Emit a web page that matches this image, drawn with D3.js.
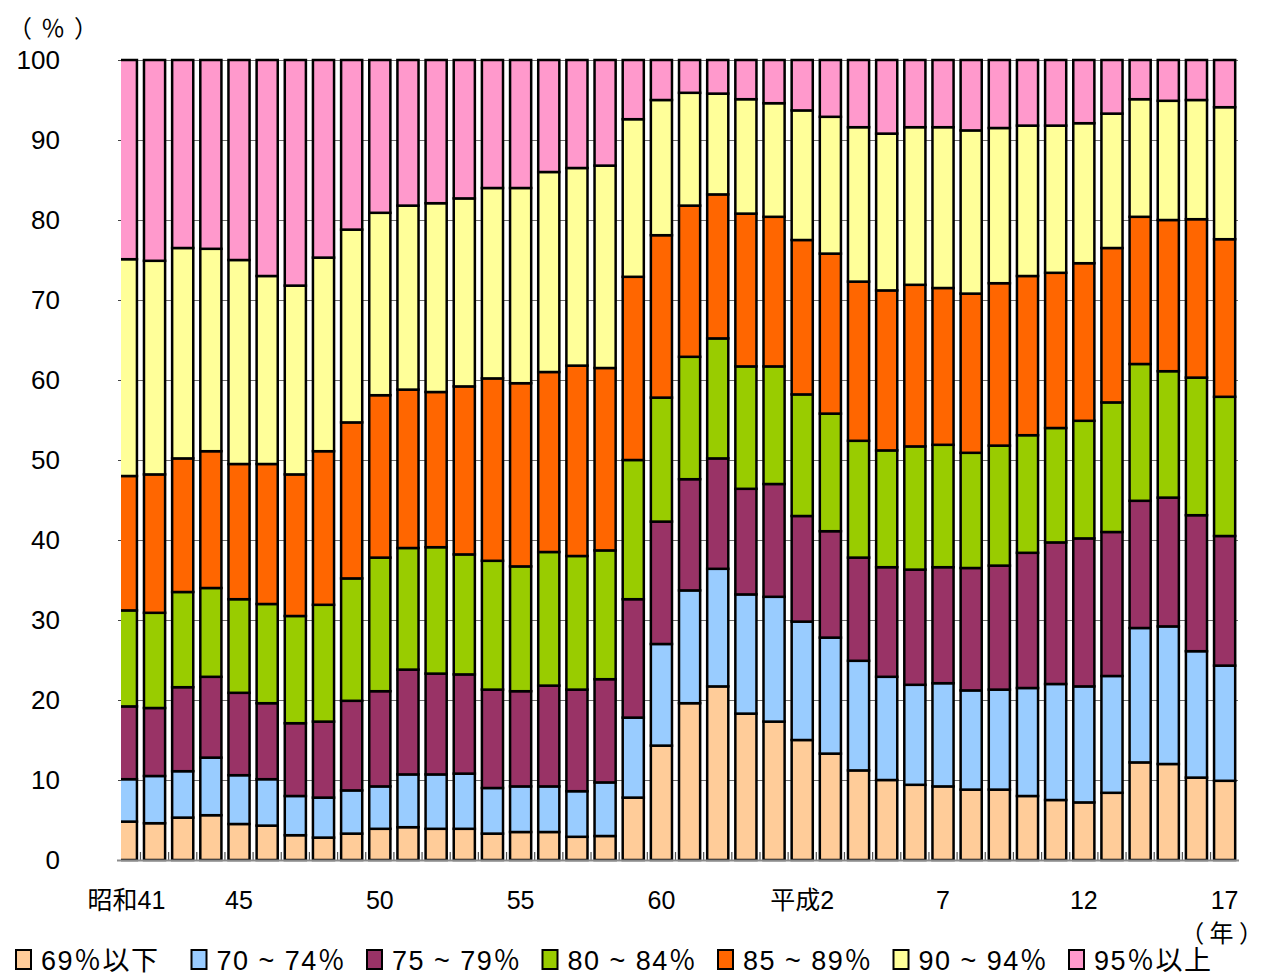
<!DOCTYPE html>
<html>
<head>
<meta charset="utf-8">
<title>Stacked bars</title>
<script src="https://cdnjs.cloudflare.com/ajax/libs/d3/7.8.5/d3.min.js"></script>
<style>
  body { margin: 0; background: #fff; }
  text { font-family: "Liberation Sans", Arial, "Noto Sans CJK JP", sans-serif; fill: #000; }
  .cjk { font-family: "Noto Sans CJK JP", sans-serif; }
</style>
</head>
<body>
<script>
// years, 昭和41 (1966) .. 平成17 (2005)
var years = ["昭和41","昭和42","昭和43","昭和44","昭和45","昭和46","昭和47","昭和48","昭和49","昭和50",
  "昭和51","昭和52","昭和53","昭和54","昭和55","昭和56","昭和57","昭和58","昭和59","昭和60",
  "昭和61","昭和62","昭和63","平成元","平成2","平成3","平成4","平成5","平成6","平成7",
  "平成8","平成9","平成10","平成11","平成12","平成13","平成14","平成15","平成16","平成17"];

// which years get a label, and what it says
var tickLabels = {"昭和41":"昭和41","昭和45":"45","昭和50":"50","昭和55":"55","昭和60":"60",
  "平成2":"平成2","平成7":"7","平成12":"12","平成17":"17"};

var seriesNames = ["69％以下","70 ~ 74％","75 ~ 79％","80 ~ 84％","85 ~ 89％","90 ~ 94％","95％以上"];
var colors = ["#FFCC99","#99CCFF","#993366","#99CC00","#FF6600","#FFFF99","#FF99CC"];
var yTicks = [0,10,20,30,40,50,60,70,80,90,100];

// shares (%)
var s69 = [4.8,4.6,5.3,5.6,4.5,4.3,3.1,2.8,3.3,3.9, 4.1,3.9,3.9,3.3,3.5,3.5,2.9,3.0,7.8,14.3,
  19.6,21.7,18.3,17.3,15.0,13.3,11.2,10.0,9.4,9.2, 8.8,8.8,8.0,7.5,7.2,8.4,12.2,12.0,10.3,9.9];
var s70 = [5.3,5.9,5.8,7.2,6.1,5.8,4.9,5.0,5.4,5.3, 6.6,6.8,6.9,5.7,5.7,5.7,5.7,6.7,10.0,12.7,
  14.1,14.7,14.9,15.6,14.8,14.5,13.7,12.9,12.5,12.9, 12.4,12.5,13.5,14.5,14.5,14.6,16.8,17.2,15.8,14.4];
var s75 = [9.1,8.5,10.5,10.1,10.3,9.5,9.1,9.5,11.2,11.9, 13.1,12.6,12.4,12.3,11.9,12.6,12.7,12.9,14.8,15.3,
  13.9,13.8,13.2,14.1,13.2,13.3,12.9,13.7,14.4,14.5, 15.3,15.5,16.9,17.7,18.5,18.0,15.9,16.1,17.0,16.2];
var s80 = [12.0,11.9,11.9,11.1,11.7,12.4,13.4,14.6,15.3,16.7, 15.2,15.8,15.0,16.1,15.6,16.7,16.7,16.1,17.4,15.5,
  15.3,15.0,15.3,14.7,15.2,14.7,14.6,14.6,15.4,15.3, 14.4,15.0,14.7,14.3,14.7,16.2,17.1,15.8,17.2,17.4];
var s85 = [16.8,17.3,16.7,17.1,16.9,17.5,17.7,19.2,19.5,20.3, 19.8,19.4,21.0,22.8,22.9,22.5,23.8,22.8,22.9,20.3,
  18.9,18.0,19.1,18.7,19.3,20.0,19.9,20.0,20.2,19.6, 19.9,20.3,19.9,19.4,19.7,19.3,18.4,18.9,19.8,19.7];
var s90 = [27.1,26.7,26.3,25.3,25.5,23.5,23.6,24.2,24.1,22.8, 23.0,23.6,23.5,23.8,24.4,25.0,24.7,25.3,19.7,16.9,
  14.1,12.6,14.3,14.2,16.2,17.1,19.3,19.6,19.7,20.1, 20.4,19.4,18.8,18.4,17.5,16.8,14.7,14.9,14.9,16.5];
var s95 = [24.9,25.1,23.5,23.6,25.0,27.0,28.2,24.7,21.2,19.1, 18.2,17.9,17.3,16.0,16.0,14.0,13.5,13.2,7.4,5.0,
  4.1,4.2,4.9,5.4,6.3,7.1,8.4,9.2,8.4,8.4, 8.8,8.5,8.2,8.2,7.9,6.7,4.9,5.1,5.0,5.9];

var seriesValues = [s69, s70, s75, s80, s85, s90, s95];

var width = 1266, height = 976;
var plotLeft = 121, plotRight = 1239, plotTop = 60, plotBottom = 860;

var rows = years.map(function (y, i) {
  var r = { year: y };
  seriesNames.forEach(function (k, j) { r[k] = seriesValues[j][i]; });
  return r;
});

var stacked = d3.stack().keys(seriesNames)(rows);

var x = d3.scaleBand()
  .domain(years)
  .range([112.3, 1238.7])
  .paddingInner(0.25)
  .paddingOuter(0.125);

var y = d3.scaleLinear().domain([0, 100]).range([plotBottom, plotTop]);

var svg = d3.select("body").append("svg")
  .attr("width", width)
  .attr("height", height);

svg.append("defs").append("clipPath").attr("id", "plotclip")
  .append("rect")
  .attr("x", plotLeft).attr("y", 0)
  .attr("width", plotRight - plotLeft).attr("height", height);

// gridlines
svg.append("g")
  .attr("transform", "translate(" + plotLeft + ",0)")
  .call(d3.axisLeft(y).tickValues(yTicks).tickSize(-(plotRight - plotLeft - 1)).tickFormat(""))
  .call(function (g) {
    g.select(".domain").remove();
    g.selectAll("line").attr("stroke", "#6e6e6e").attr("stroke-width", 1);
  });

// y labels
svg.append("g")
  .attr("transform", "translate(" + plotLeft + ",0)")
  .call(d3.axisLeft(y).tickValues(yTicks).tickSize(3).tickPadding(58))
  .call(function (g) {
    g.select(".domain").remove();
    g.selectAll("line").attr("stroke", "#444");
    g.selectAll("text").style("font-size", "26px").attr("fill", "#000");
  });

// bars
var barsG = svg.append("g").attr("clip-path", "url(#plotclip)");

barsG.selectAll("g.layer")
  .data(stacked)
  .enter().append("g")
  .attr("class", "layer")
  .attr("fill", function (d, i) { return colors[i]; })
  .selectAll("rect")
  .data(function (d) { return d; })
  .enter().append("rect")
  .attr("x", function (d) { return x(d.data.year); })
  .attr("width", x.bandwidth())
  .attr("y", function (d) { return y(d[1]); })
  .attr("height", function (d) { return y(d[0]) - y(d[1]); })
  .attr("stroke", "#000")
  .attr("stroke-width", 2.5);

// x axis line and separator ticks between bars
var sep = years.slice(1).map(function (yr) { return x(yr) - x.step() * x.paddingInner() / 2; });
svg.append("g").selectAll("line")
  .data(sep)
  .enter().append("line")
  .attr("x1", function (d) { return d; })
  .attr("x2", function (d) { return d; })
  .attr("y1", plotBottom - 8)
  .attr("y2", plotBottom)
  .attr("stroke", "#555")
  .attr("stroke-width", 1.2);

svg.append("line")
  .attr("x1", plotLeft - 4).attr("x2", plotRight)
  .attr("y1", plotBottom + 0.5).attr("y2", plotBottom + 0.5)
  .attr("stroke", "#8c8c8c")
  .attr("stroke-width", 2);

// x labels
svg.append("g")
  .attr("transform", "translate(0," + plotBottom + ")")
  .call(d3.axisBottom(x)
    .tickValues(Object.keys(tickLabels))
    .tickSize(0)
    .tickPadding(31)
    .tickFormat(function (d) { return tickLabels[d]; }))
  .call(function (g) {
    g.select(".domain").remove();
    g.selectAll("text").style("font-size", "25px").attr("fill", "#000");
  });

// unit labels
svg.append("text")
  .attr("class", "cjk")
  .attr("x", 8).attr("y", 37)
  .style("font-size", "24px")
  .style("letter-spacing", "9px")
  .text("（％）");

svg.append("text")
  .attr("class", "cjk")
  .attr("x", 1263).attr("y", 942)
  .attr("text-anchor", "end")
  .style("font-size", "24px")
  .text("（ 年 ）");

// legend
var legend = svg.append("g")
  .selectAll("g")
  .data(seriesNames)
  .enter().append("g")
  .attr("transform", function (d, i) { return "translate(" + (16 + i * 175.5) + ",950)"; });

legend.append("rect")
  .attr("width", 15).attr("height", 19)
  .attr("fill", function (d, i) { return colors[i]; })
  .attr("stroke", "#000")
  .attr("stroke-width", 2);

legend.append("text")
  .attr("x", 25).attr("y", 20)
  .style("font-size", "27px")
  .style("letter-spacing", "1.5px")
  .text(function (d) { return d; });
</script>
</body>
</html>
